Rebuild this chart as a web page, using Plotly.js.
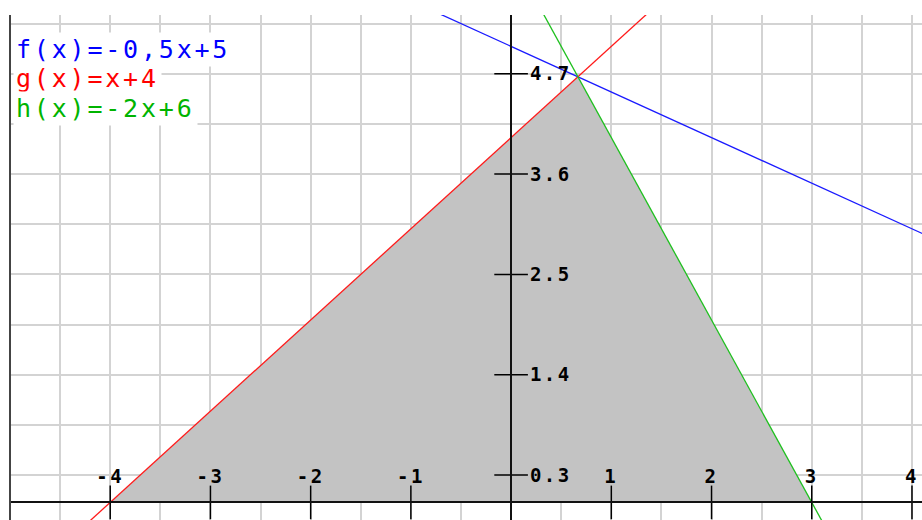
<!DOCTYPE html>
<html>
<head>
<meta charset="utf-8">
<script src="https://cdn.plot.ly/plotly-3.0.1.min.js"></script>
<style>
  html, body { margin: 0; padding: 0; background: #fff; }
  #chart { width: 922px; height: 520px; }
  .xtick text, .ytick text { letter-spacing: 2.5px; font-weight: bold !important; }
  .annotation-text { letter-spacing: 2.8px; }
</style>
</head>
<body>
<div id="chart"></div>
<script>
// Linear functions y = m*x + b, exactly as written in the labels
const names = ['f(x)=-0,5x+5', 'g(x)=x+4', 'h(x)=-2x+6'];
const slopes = [-0.5, 1, -2];
const intercepts = [5, 4, 6];
const lineColors = ['#1a1aff', '#ff1a1a', '#1ec01e'];
const labelColors = ['#0000ff', '#ff0000', '#00b400'];

// Axis ticks
const xTickVals = [-4, -3, -2, -1, 1, 2, 3, 4];
const xTickText = ['-4', '-3', '-2', '-1', '1', '2', '3', '4'];
const yTickVals = [0.3, 1.4, 2.5, 3.6, 4.7];
const yTickText = ['0.3', '1.4', '2.5', '3.6', '4.7'];

// Visible window
const xRange = [-5, 4.1];
const yRange = [-0.193, 5.344];

const gridColor = '#d3d3d3';
const tickFont = { family: 'DejaVu Sans Mono', size: 19, weight: 'bold', color: '#000' };

// Shaded triangle bounded by g, h and the x-axis
const G = 1, H = 2;
const gRoot = -intercepts[G] / slopes[G];
const hRoot = -intercepts[H] / slopes[H];
const xMeet = (intercepts[H] - intercepts[G]) / (slopes[G] - slopes[H]);
const yMeet = slopes[G] * xMeet + intercepts[G];

const traces = [];
traces.push({
  type: 'scatter', mode: 'lines',
  x: [gRoot, xMeet, hRoot, gRoot],
  y: [0, yMeet, 0, 0],
  fill: 'toself', fillcolor: '#c3c3c3',
  line: { width: 0, color: '#c3c3c3' },
  hoverinfo: 'skip', showlegend: false
});

// Function graphs, drawn past the window edges and clipped by the plot area
const xEnds = [-7, 6];
names.forEach((n, i) => {
  traces.push({
    type: 'scatter', mode: 'lines', name: n,
    x: xEnds,
    y: xEnds.map(x => slopes[i] * x + intercepts[i]),
    line: { color: lineColors[i], width: 1.3 },
    showlegend: false
  });
});

// Tick marks crossing the axes
traces.push({
  type: 'scatter', mode: 'markers',
  x: xTickVals, y: xTickVals.map(() => 0),
  marker: { symbol: 'line-ns', size: 24, line: { color: '#000', width: 1.5 } },
  hoverinfo: 'skip', showlegend: false, cliponaxis: false
});
traces.push({
  type: 'scatter', mode: 'markers',
  x: yTickVals.map(() => 0), y: yTickVals,
  marker: { symbol: 'line-ew', size: 24, line: { color: '#000', width: 1.5 } },
  hoverinfo: 'skip', showlegend: false, cliponaxis: false
});

const layout = {
  width: 922, height: 520,
  margin: { l: 10, r: 0, t: 15, b: 0, pad: 0 },
  paper_bgcolor: '#fff', plot_bgcolor: '#fff',
  showlegend: false,
  xaxis: {
    range: xRange, anchor: 'free',
    position: (0 - yRange[0]) / (yRange[1] - yRange[0]),
    side: 'top', layer: 'above traces',
    showline: true, linecolor: '#111', linewidth: 2,
    zeroline: false,
    tickmode: 'array', tickvals: xTickVals, ticktext: xTickText,
    ticks: '', ticklabelstandoff: 11, tickfont: tickFont,
    showgrid: true, gridcolor: gridColor, gridwidth: 2,
    minor: { dtick: 0.5, tick0: 0, showgrid: true, gridcolor: gridColor, gridwidth: 2, ticks: '' },
    automargin: false, fixedrange: true
  },
  yaxis: {
    range: yRange, anchor: 'free',
    position: (0 - xRange[0]) / (xRange[1] - xRange[0]),
    side: 'right', layer: 'above traces',
    showline: true, linecolor: '#111', linewidth: 2,
    zeroline: false,
    tickmode: 'array', tickvals: yTickVals, ticktext: yTickText,
    ticks: '', ticklabelstandoff: 14, tickfont: tickFont,
    showgrid: true, gridcolor: gridColor, gridwidth: 2,
    minor: { dtick: 0.55, tick0: 0.3, showgrid: true, gridcolor: gridColor, gridwidth: 2, ticks: '' },
    automargin: false, fixedrange: true
  },
  shapes: [{
    type: 'line', xref: 'paper', yref: 'paper',
    x0: 0, x1: 0, y0: 0, y1: 1,
    line: { color: '#444', width: 2 }
  }],
  annotations: names.map((n, i) => ({
    text: n, xref: 'paper', yref: 'paper',
    x: 3 / 912, y: [0.9307, 0.8733, 0.8139][i],
    xanchor: 'left', yanchor: 'middle',
    showarrow: false, align: 'left',
    bgcolor: '#fff', borderpad: 2,
    font: { family: 'DejaVu Sans Mono', size: 25, color: labelColors[i] }
  }))
};

Plotly.newPlot('chart', traces, layout, { staticPlot: true, displayModeBar: false });
</script>
</body>
</html>
